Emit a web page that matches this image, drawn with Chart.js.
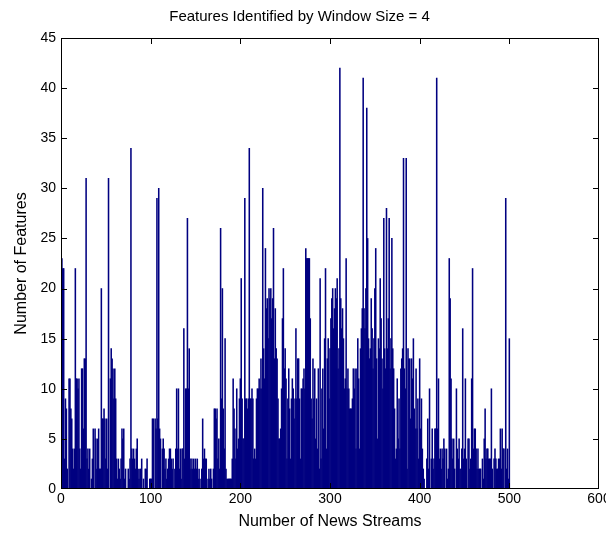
<!DOCTYPE html>
<html><head><meta charset="utf-8">
<script src="https://cdn.jsdelivr.net/npm/chart.js@4.4.0/dist/chart.umd.min.js"></script>
<style>html,body{margin:0;padding:0;background:#fff}#wrap{width:606px;height:538px}</style>
</head><body><div id="wrap"><canvas id="c" width="606" height="538"></canvas></div>
<script>
const chartTitle = 'Features Identified by Window Size = 4';
const xAxisTitle = 'Number of News Streams';
const yAxisTitle = 'Number of Features';
const xTickValues = [0, 100, 200, 300, 400, 500, 600];
const yTickValues = [0, 5, 10, 15, 20, 25, 30, 35, 40, 45];
const featureCounts = [
  23,22,22,3,9,8,2,0,11,11,
  8,7,4,2,4,22,11,11,10,11,
  4,2,12,12,6,13,13,31,3,4,
  2,4,0,1,3,6,0,6,5,2,
  5,6,2,2,20,7,7,8,7,3,
  7,2,31,0,11,14,13,12,9,12,
  9,3,1,3,2,1,3,6,5,6,
  1,2,0,0,2,1,3,34,4,3,
  4,3,2,4,5,2,1,2,2,3,
  0,1,0,2,2,3,0,0,1,1,
  1,7,7,0,7,6,29,7,30,6,
  5,0,4,5,4,2,3,1,2,3,
  4,4,3,2,3,0,2,4,10,4,
  10,2,4,1,4,4,16,3,10,10,
  27,10,14,3,2,3,2,3,2,3,
  2,3,1,2,1,0,2,7,3,4,
  3,3,0,1,2,1,2,1,0,2,
  8,8,7,8,3,5,2,26,9,20,
  8,4,15,2,1,1,1,1,1,1,
  3,11,8,6,3,10,4,5,9,11,
  21,9,5,5,29,9,9,8,9,34,
  9,9,10,9,3,4,3,9,10,10,
  11,10,13,10,30,14,11,24,18,19,
  15,20,19,20,17,19,26,13,18,14,
  13,9,5,5,6,10,17,22,12,14,
  11,3,9,12,8,3,9,11,10,7,
  9,16,9,13,13,9,3,10,10,11,
  12,10,24,23,23,23,23,17,9,7,
  13,9,12,5,9,4,12,2,21,3,
  10,12,6,15,22,4,13,15,9,14,
  17,19,20,16,18,20,19,21,12,14,
  42,19,16,18,15,10,11,23,10,12,
  10,8,8,8,9,12,10,12,4,12,
  15,11,4,14,16,18,41,18,16,20,
  38,25,15,13,14,19,16,12,15,20,
  24,13,5,15,14,21,17,13,10,27,
  14,12,28,14,17,27,12,15,25,14,
  12,8,3,4,11,5,9,4,12,13,
  14,33,12,10,33,2,14,13,13,7,
  13,11,15,8,6,12,6,9,3,13,
  6,9,4,2,1,0,0,3,7,2,
  10,0,3,6,2,3,6,6,41,6,
  11,3,4,2,4,3,5,4,0,4,
  1,2,23,19,11,5,3,5,2,0,
  10,4,3,5,2,2,4,16,3,4,
  11,3,0,5,5,2,3,11,22,4,
  6,6,4,2,4,2,2,2,0,3,
  1,5,8,3,4,4,3,3,3,10,
  2,0,3,4,3,2,2,3,3,6,
  2,6,4,4,0,29,2,4,1,15
];
const streamNumbers = featureCounts.map((_, i) => i + 1);

function hasFont(name) {
  const c = document.createElement('canvas').getContext('2d');
  const s = 'abcdefghijklmnopqrstuvwxyzWM0123456789';
  c.font = '40px monospace';
  const w1 = c.measureText(s).width;
  c.font = '40px "' + name + '", monospace';
  const w2 = c.measureText(s).width;
  return Math.abs(w1 - w2) > 0.5;
}
const narrow = hasFont('Liberation Sans Narrow');
const FONT = narrow ? "'Liberation Sans Narrow', 'Liberation Sans', Arial, sans-serif"
                    : "'Liberation Sans', Arial, sans-serif";
const SZ = narrow ? {title: 18, axis: 18, tick: 17} : {title: 15, axis: 16, tick: 14};

const boxTicks = {
  id: 'boxTicks',
  afterDraw(chart) {
    const {ctx, chartArea: a, scales: {x, y}} = chart;
    const L = Math.round(a.left), R = Math.round(a.right) - 1;
    const T = Math.round(a.top), B = Math.round(a.bottom) - 1;
    const len = 5;
    ctx.save();
    ctx.fillStyle = '#000';
    ctx.fillRect(L, T, R - L + 1, 1);
    ctx.fillRect(L, B, R - L + 1, 1);
    ctx.fillRect(L, T, 1, B - T + 1);
    ctx.fillRect(R, T, 1, B - T + 1);
    xTickValues.forEach(v => {
      const px = Math.round(x.getPixelForValue(v));
      const xx = Math.min(Math.max(px, L), R);
      ctx.fillRect(xx, B - len, 1, len);
      ctx.fillRect(xx, T, 1, len + 1);
    });
    yTickValues.forEach(v => {
      const py = Math.round(y.getPixelForValue(v));
      const yy = Math.min(Math.max(py, T), B);
      ctx.fillRect(L, yy, len + 1, 1);
      ctx.fillRect(R - len, yy, len + 1, 1);
    });
    ctx.restore();
  }
};

new Chart(document.getElementById('c'), {
  type: 'bar',
  data: {
    datasets: [{
      data: streamNumbers.map((s, i) => ({x: s, y: featureCounts[i]})),
      backgroundColor: '#000080',
      borderWidth: 0,
      barPercentage: 1,
      categoryPercentage: 1
    }]
  },
  options: {
    responsive: false,
    animation: false,
    devicePixelRatio: 1,
    layout: {padding: {left: 0, right: 7, top: 0, bottom: 0}},
    plugins: {
      legend: {display: false},
      tooltip: {enabled: false},
      title: {
        display: true, text: chartTitle, color: '#000',
        font: {family: FONT, size: SZ.title, weight: 'normal', lineHeight: 1.2},
        padding: {top: 38 - SZ.title * 1.2 - 10.5 > 0 ? 17 - SZ.title * 0.6 : 4, bottom: 38 - (17 - SZ.title * 0.6) - SZ.title * 1.2}
      }
    },
    scales: {
      x: {
        type: 'linear', min: 0, max: 600, offset: false,
        grid: {display: false, drawTicks: false}, border: {display: false},
        afterBuildTicks: s => { s.ticks = xTickValues.map(v => ({value: v})); },
        afterFit: s => { s.height = 49; s.paddingLeft = 0; s.paddingRight = 0; },
        ticks: {color: '#000', font: {family: FONT, size: SZ.tick, lineHeight: 1.2}, padding: 2, maxRotation: 0, autoSkip: false},
        title: {display: true, text: xAxisTitle, color: '#000', font: {family: FONT, size: SZ.axis, lineHeight: 1.2}, padding: {top: 0, bottom: 16 - SZ.axis * 0.6}}
      },
      y: {
        min: 0, max: 45,
        grid: {display: false, drawTicks: false}, border: {display: false},
        afterBuildTicks: s => { s.ticks = yTickValues.map(v => ({value: v})); },
        afterFit: s => { s.width = 61; s.paddingTop = 0; s.paddingBottom = 0; },
        ticks: {color: '#000', font: {family: FONT, size: SZ.tick, lineHeight: 1.2}, padding: 5, autoSkip: false},
        title: {display: true, text: yAxisTitle, color: '#000', font: {family: FONT, size: SZ.axis, lineHeight: 1.2}, padding: {top: 22 - SZ.axis * 0.6, bottom: 0}}
      }
    }
  },
  plugins: [boxTicks]
});
</script>
</body></html>
